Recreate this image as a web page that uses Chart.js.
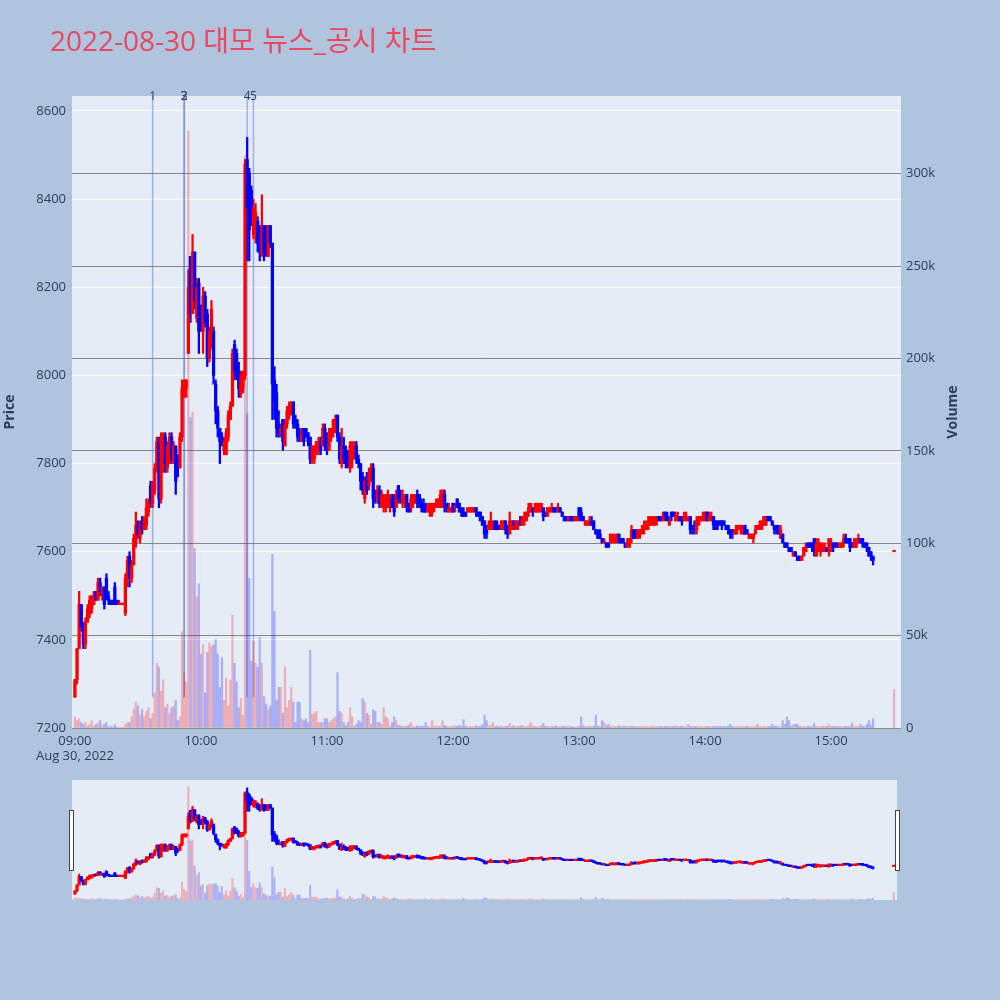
<!DOCTYPE html>
<html>
<head>
<meta charset="utf-8">
<title>대모 뉴스_공시 차트</title>
<script src="https://cdn.jsdelivr.net/npm/chart.js@4.4.0/dist/chart.umd.min.js"></script>
<style>
  html, body { margin: 0; padding: 0; background: #b0c4de; }
  #wrap { position: relative; width: 1000px; height: 1000px; }
  #mainChart { position: absolute; left: 0; top: 0; }
  #sliderChart { position: absolute; left: 62px; top: 780px; }
</style>
</head>
<body>
<div id="wrap">
  <canvas id="mainChart" width="1000" height="1000"></canvas>
  <canvas id="sliderChart" width="846" height="121"></canvas>
</div>
<script>
/**
 * 대모 1분봉 + 거래량 + 뉴스/공시 표시
 * 분 인덱스: 09:00 = 0, 15:30 동시호가 = 390
 */

const opens = [
  7270,7310,7380,7480,7430,7390,7440,7460,7470,7480,
  7510,7490,7530,7500,7520,7540,7500,7490,7490,7520,
  7490,7480,7480,7480,7460,7530,7590,7540,7570,7620,
  7660,7630,7670,7650,7660,7690,7750,7710,7740,7790,
  7850,7720,7800,7860,7790,7800,7860,7810,7840,7800,
  7790,7860,7960,7970,8050,8270,8140,8280,8130,8210,
  8150,8100,8180,8140,8040,8070,8100,7980,7920,7880,
  7860,7830,7820,7860,7900,7930,8070,8050,8010,7960,
  7970,8000,8490,8460,8420,8320,8330,8350,8330,8280,
  8340,8330,8270,8340,8300,7990,7960,7890,7870,7900,
  7840,7890,7910,7920,7940,7900,7890,7870,7850,7880,
  7880,7870,7860,7810,7810,7830,7830,7850,7840,7880,
  7860,7830,7860,7870,7880,7910,7860,7800,7840,7830,
  7820,7790,7810,7830,7840,7810,7800,7770,7720,7770,
  7750,7770,7790,7730,7720,7740,7710,7700,7700,7700,
  7700,7720,7720,7700,7750,7730,7710,7710,7730,7710,
  7700,7710,7710,7730,7730,7710,7710,7700,7690,7690,
  7690,7700,7700,7700,7700,7710,7730,7710,7690,7690,
  7710,7700,7720,7710,7700,7690,7690,7690,7690,7690,
  7690,7700,7690,7690,7680,7670,7660,7650,7650,7650,
  7670,7660,7660,7650,7660,7670,7660,7640,7650,7670,
  7650,7660,7670,7660,7670,7670,7690,7690,7700,7690,
  7690,7690,7700,7700,7690,7680,7690,7690,7700,7700,
  7690,7700,7690,7680,7680,7670,7680,7680,7670,7670,
  7700,7690,7680,7660,7660,7660,7670,7670,7650,7640,
  7640,7630,7620,7620,7620,7620,7630,7620,7630,7640,
  7630,7630,7620,7610,7610,7630,7650,7650,7630,7640,
  7640,7650,7650,7660,7660,7660,7660,7670,7680,7680,
  7670,7690,7680,7660,7690,7690,7670,7670,7680,7680,
  7670,7670,7670,7680,7660,7660,7650,7660,7670,7670,
  7670,7690,7670,7670,7680,7670,7670,7670,7670,7670,
  7660,7660,7650,7650,7640,7640,7650,7650,7640,7660,
  7650,7630,7630,7630,7640,7650,7650,7650,7660,7660,
  7680,7680,7670,7660,7660,7650,7630,7640,7620,7620,
  7610,7610,7590,7600,7590,7590,7580,7590,7600,7620,
  7620,7620,7630,7590,7600,7600,7600,7600,7610,7600,
  7610,7620,7620,7620,7610,7610,7620,7630,7630,7630,
  7620,7610,7610,7620,7630,7630,7620,7620,7610,7600,
  7590,null,null,null,null,null,null,null,null,null,
  7600
];

const highs = [
  7310,7380,7510,7480,7440,7450,7480,7500,7500,7510,
  7510,7540,7540,7520,7520,7550,7510,7490,7490,7530,
  7490,7490,7480,7480,7550,7590,7600,7580,7640,7690,
  7670,7670,7680,7680,7720,7720,7760,7760,7800,7860,
  7860,7870,7870,7870,7850,7870,7870,7850,7840,7820,
  7870,7990,7990,7990,8240,8270,8320,8280,8220,8220,
  8160,8200,8190,8150,8110,8170,8110,7990,7930,7880,
  7870,7860,7880,7920,7940,8060,8080,8060,8030,8010,
  8010,8490,8540,8470,8430,8400,8390,8360,8340,8410,
  8340,8340,8340,8340,8300,8020,7980,7920,7890,7900,
  7900,7930,7940,7940,7940,7910,7900,7880,7880,7880,
  7880,7870,7860,7840,7840,7850,7860,7860,7890,7890,
  7870,7880,7880,7900,7910,7910,7870,7880,7860,7840,
  7830,7850,7850,7850,7850,7820,7800,7780,7770,7780,
  7790,7800,7800,7740,7750,7750,7740,7730,7730,7740,
  7730,7730,7730,7740,7750,7740,7740,7730,7730,7710,
  7730,7730,7730,7740,7730,7720,7720,7710,7710,7710,
  7710,7710,7720,7720,7740,7740,7740,7710,7710,7700,
  7710,7710,7720,7710,7700,7700,7690,7700,7700,7700,
  7700,7700,7690,7690,7680,7670,7660,7670,7690,7670,
  7670,7670,7660,7670,7670,7670,7660,7690,7670,7670,
  7670,7670,7680,7680,7690,7690,7710,7710,7700,7710,
  7710,7710,7710,7700,7690,7700,7700,7710,7700,7700,
  7710,7700,7690,7680,7680,7680,7680,7680,7680,7680,
  7700,7700,7680,7670,7670,7680,7680,7670,7650,7650,
  7650,7630,7630,7620,7620,7640,7640,7640,7640,7640,
  7630,7630,7620,7630,7630,7660,7650,7650,7650,7650,
  7660,7670,7670,7680,7680,7680,7680,7680,7680,7680,
  7690,7690,7690,7680,7690,7690,7690,7690,7680,7680,
  7690,7690,7680,7680,7660,7670,7680,7680,7680,7690,
  7690,7690,7690,7690,7680,7670,7670,7670,7670,7670,
  7660,7660,7650,7650,7650,7660,7660,7660,7660,7660,
  7650,7640,7640,7640,7660,7660,7670,7670,7680,7680,
  7680,7680,7670,7660,7660,7660,7660,7640,7620,7620,
  7610,7610,7600,7600,7590,7590,7590,7610,7620,7620,
  7620,7620,7630,7630,7630,7620,7620,7620,7610,7630,
  7630,7620,7620,7620,7620,7620,7640,7640,7630,7630,
  7620,7630,7630,7640,7630,7630,7620,7620,7610,7600,
  7590,null,null,null,null,null,null,null,null,null,
  7600
];

const lows = [
  7270,7300,7380,7420,7380,7380,7440,7450,7460,7480,
  7490,7490,7500,7490,7470,7490,7480,7480,7480,7480,
  7480,7480,7480,7480,7455,7520,7520,7530,7570,7610,
  7630,7620,7640,7650,7650,7680,7700,7700,7730,7780,
  7700,7710,7780,7780,7780,7800,7800,7800,7730,7770,
  7790,7850,7950,7950,8050,8120,8140,8150,8120,8050,
  8100,8050,8110,8020,8030,8060,7980,7890,7860,7800,
  7840,7820,7820,7850,7900,7930,7990,7990,7950,7950,
  7960,7990,8260,8260,8340,8310,8300,8280,8260,8270,
  8260,8270,8270,8290,7900,7900,7860,7860,7860,7830,
  7840,7880,7900,7910,7880,7880,7850,7850,7850,7840,
  7860,7840,7800,7800,7800,7820,7820,7820,7840,7830,
  7820,7830,7850,7860,7870,7850,7800,7790,7800,7790,
  7790,7780,7790,7810,7800,7790,7740,7730,7710,7730,
  7740,7760,7700,7710,7710,7700,7700,7690,7690,7700,
  7690,7700,7680,7700,7710,7710,7700,7700,7690,7690,
  7690,7700,7710,7700,7700,7690,7690,7690,7690,7680,
  7680,7690,7700,7700,7700,7700,7690,7690,7690,7690,
  7690,7690,7700,7690,7680,7680,7680,7690,7690,7690,
  7690,7680,7680,7670,7660,7630,7630,7650,7650,7650,
  7650,7650,7650,7650,7650,7640,7630,7640,7650,7650,
  7650,7650,7660,7660,7660,7670,7680,7690,7680,7690,
  7690,7690,7690,7670,7680,7680,7690,7690,7690,7690,
  7690,7690,7680,7670,7670,7670,7670,7670,7670,7670,
  7670,7670,7670,7660,7660,7660,7660,7650,7640,7630,
  7630,7620,7620,7610,7610,7620,7620,7620,7620,7620,
  7620,7620,7610,7610,7610,7620,7630,7630,7630,7630,
  7640,7640,7650,7650,7660,7660,7660,7660,7670,7670,
  7670,7670,7670,7660,7670,7680,7670,7670,7670,7660,
  7670,7670,7670,7640,7640,7640,7640,7660,7670,7670,
  7670,7670,7670,7670,7650,7650,7650,7660,7650,7660,
  7650,7640,7630,7630,7640,7640,7650,7640,7640,7640,
  7640,7630,7630,7620,7640,7650,7650,7650,7660,7660,
  7670,7670,7660,7640,7640,7640,7630,7620,7610,7610,
  7600,7600,7590,7590,7580,7580,7580,7590,7600,7610,
  7610,7600,7590,7590,7600,7590,7600,7600,7600,7590,
  7600,7600,7610,7610,7610,7610,7610,7620,7620,7600,
  7610,7610,7610,7620,7620,7610,7610,7600,7590,7580,
  7570,null,null,null,null,null,null,null,null,null,
  7600
];

const closes = [
  7310,7380,7480,7430,7390,7440,7470,7490,7500,7500,
  7490,7530,7510,7520,7480,7500,7490,7480,7480,7490,
  7480,7480,7480,7480,7540,7580,7540,7570,7630,7660,
  7640,7660,7650,7670,7700,7710,7710,7750,7790,7850,
  7720,7860,7860,7800,7840,7860,7810,7840,7760,7790,
  7860,7970,7980,7990,8200,8140,8280,8170,8200,8100,
  8110,8180,8120,8040,8100,8150,8000,7920,7880,7850,
  7850,7850,7870,7910,7930,8050,8010,8000,7970,8000,
  8000,8480,8380,8330,8350,8380,8370,8300,8280,8340,
  8280,8290,8340,8300,7980,7940,7880,7870,7880,7850,
  7890,7920,7930,7940,7890,7890,7860,7860,7870,7850,
  7860,7850,7810,7840,7840,7850,7850,7830,7880,7840,
  7830,7870,7880,7900,7900,7860,7810,7840,7810,7800,
  7800,7840,7840,7840,7810,7800,7760,7740,7760,7740,
  7780,7790,7720,7720,7740,7710,7730,7720,7720,7730,
  7720,7700,7690,7730,7720,7720,7730,7720,7700,7690,
  7720,7730,7730,7710,7710,7700,7690,7690,7700,7700,
  7700,7710,7710,7720,7730,7740,7700,7700,7700,7700,
  7690,7700,7700,7690,7690,7680,7680,7700,7700,7700,
  7700,7690,7680,7670,7660,7640,7640,7660,7670,7660,
  7650,7650,7650,7670,7670,7650,7640,7670,7670,7660,
  7670,7670,7660,7680,7680,7690,7700,7710,7690,7700,
  7710,7700,7710,7680,7680,7700,7700,7700,7690,7690,
  7700,7690,7680,7670,7670,7680,7670,7670,7680,7680,
  7680,7680,7670,7670,7670,7670,7660,7650,7640,7630,
  7630,7620,7620,7610,7610,7640,7640,7630,7640,7630,
  7620,7620,7610,7620,7630,7650,7630,7640,7650,7650,
  7650,7660,7660,7670,7680,7670,7680,7680,7670,7670,
  7680,7680,7670,7670,7680,7680,7680,7680,7670,7670,
  7680,7680,7680,7650,7650,7650,7670,7680,7680,7680,
  7690,7670,7680,7680,7660,7650,7660,7660,7660,7660,
  7650,7650,7640,7640,7650,7660,7660,7660,7650,7640,
  7640,7640,7640,7640,7650,7660,7660,7670,7680,7670,
  7670,7670,7660,7650,7650,7640,7650,7620,7610,7610,
  7600,7600,7600,7590,7580,7580,7590,7610,7610,7610,
  7610,7610,7600,7620,7620,7620,7610,7610,7600,7630,
  7620,7610,7610,7610,7620,7620,7630,7620,7620,7610,
  7610,7620,7630,7630,7620,7620,7610,7610,7590,7590,
  7580,null,null,null,null,null,null,null,null,null,
  7600
];

const volumes = [
  6000,4000,5000,3000,2000,3000,1000,2000,4000,1000,
  2000,3000,4000,1000,2000,3000,500,1000,500,2000,
  500,300,200,300,2000,3000,3000,6000,10000,14000,
  12000,7000,10000,6000,9000,11000,5000,8000,19000,35000,
  33000,20000,26000,11000,13000,8000,11000,12000,15000,4000,
  6000,52000,30000,25000,323000,168000,171000,97000,71000,78000,
  40000,45000,19000,41000,46000,44000,45000,48000,40000,22000,
  38000,15000,27000,12000,26000,61000,35000,25000,11000,16000,
  7000,310000,170000,81000,36000,47000,35000,33000,49000,35000,
  17000,13000,10000,12000,94000,63000,15000,22000,22000,8000,
  33000,11000,15000,22000,14000,3000,14000,14000,5000,4000,
  5000,3000,42000,7500,8000,9000,3000,3000,3000,5000,
  5000,3000,4000,5000,6000,30000,9000,8000,3000,1000,
  3000,11000,6000,1000,2000,4000,3000,16000,14000,8000,
  7000,2000,10000,9000,3000,3000,2000,11000,6000,5000,
  1000,3000,6000,4000,1500,1000,1200,800,1000,1500,
  3000,1000,800,1200,600,1000,800,3000,1000,500,
  4000,800,1200,600,1000,4000,1500,800,600,1000,
  700,1200,900,1500,800,4500,1000,600,800,700,
  900,1200,600,1000,2000,7000,4000,1200,1500,3000,
  800,1000,600,1200,700,900,1000,2500,800,1200,
  600,800,1000,1500,700,900,1200,3000,800,1000,
  700,900,1200,2500,800,1000,600,900,700,1200,
  800,600,1000,900,700,1100,600,800,500,900,
  700,6000,1200,900,800,1000,600,900,7000,1000,
  800,4000,3000,1200,2000,900,700,1000,800,1200,
  600,900,700,1000,800,1200,700,600,900,800,
  1000,700,900,600,800,1100,700,900,600,800,
  700,900,800,1000,600,800,1200,900,700,1000,
  800,700,2000,900,600,800,1000,700,900,600,
  800,700,900,600,1000,800,700,900,600,800,
  700,900,2000,800,600,1000,700,900,800,600,
  900,700,800,600,1000,2000,800,700,900,600,
  800,700,2000,900,1000,800,600,4000,2000,6000,
  4000,1000,2000,2000,2000,800,700,900,600,1000,
  800,700,2500,900,600,800,1000,700,900,2000,
  800,700,900,600,1000,800,700,900,600,800,
  2500,700,900,800,2000,900,700,2000,4000,1500,
  5000,null,null,null,null,null,null,null,null,null,
  21000
];

// x축 눈금 (분 인덱스)
const timeTicks = [0, 60, 120, 180, 240, 300, 360];
const timeLabels = ['09:00', '10:00', '11:00', '12:00', '13:00', '14:00', '15:00'];
const dateLabel = 'Aug 30, 2022';

const priceTicks = [7200, 7400, 7600, 7800, 8000, 8200, 8400, 8600];
const volumeTicks = [0, 50000, 100000, 150000, 200000, 250000, 300000];

// 뉴스/공시 발생 시각 (분 인덱스)
const newsMinutes = [37, 52, 52, 82, 85];
const newsLabels = ['1', '2', '3', '4', '5'];

const titleText = '2022-08-30 대모 뉴스_공시 차트';

const UP = '#ff0000';
const DOWN = '#0000ff';
const UP_VOL = 'rgba(255, 0, 0, 0.25)';
const DOWN_VOL = 'rgba(0, 0, 255, 0.25)';
const PLOT_BG = '#e5ecf6';
const TEXT = '#2a3f5f';
const FONT = "'Open Sans', 'Noto Sans CJK KR', sans-serif";

// 값이 있는 분만 사용
const idx = closes.map((c, i) => (c == null ? -1 : i)).filter(i => i >= 0);
const isUp = i => closes[i] >= opens[i];

function buildDatasets(wickW, bodyW, volW) {
  return [
    {
      label: 'body',
      data: idx.map(i => ({ x: i, y: [opens[i], closes[i]] })),
      backgroundColor: idx.map(i => (isUp(i) ? UP : DOWN)),
      barThickness: bodyW,
      minBarLength: 1.5,
      grouped: false,
      order: 1,
      yAxisID: 'y'
    },
    {
      label: 'wick',
      data: idx.map(i => ({ x: i, y: [lows[i], highs[i]] })),
      backgroundColor: idx.map(i => (isUp(i) ? UP : DOWN)),
      barThickness: wickW,
      minBarLength: 1,
      grouped: false,
      order: 2,
      yAxisID: 'y'
    },
    {
      label: 'volume',
      data: idx.map(i => ({ x: i, y: volumes[i] })),
      backgroundColor: idx.map(i => (isUp(i) ? UP_VOL : DOWN_VOL)),
      barThickness: volW,
      grouped: false,
      order: 3,
      yAxisID: 'y1'
    }
  ];
}

// 플롯 배경
const plotBackground = {
  id: 'plotBackground',
  beforeDraw(chart) {
    const { ctx, chartArea: a } = chart;
    ctx.save();
    ctx.fillStyle = PLOT_BG;
    ctx.fillRect(a.left, a.top, a.right - a.left, a.bottom - a.top);
    ctx.restore();
  }
};

// 뉴스 세로선 + 번호
const newsMarkers = {
  id: 'newsMarkers',
  beforeDatasetsDraw(chart) {
    const { ctx, chartArea: a, scales } = chart;
    const yBottom = scales.y.getPixelForValue(7270);
    ctx.save();
    ctx.strokeStyle = 'rgba(70, 100, 230, 0.45)';
    ctx.lineWidth = 1.5;
    newsMinutes.forEach(m => {
      const x = scales.x.getPixelForValue(m);
      ctx.beginPath();
      ctx.moveTo(x, yBottom);
      ctx.lineTo(x, a.top);
      ctx.stroke();
    });
    ctx.restore();
  },
  afterDraw(chart) {
    const { ctx, chartArea: a, scales } = chart;
    ctx.save();
    ctx.fillStyle = TEXT;
    ctx.font = `12px ${FONT}`;
    ctx.textAlign = 'center';
    ctx.textBaseline = 'middle';
    newsMinutes.forEach((m, k) => {
      ctx.fillText(newsLabels[k], scales.x.getPixelForValue(m), a.top + 1);
    });
    ctx.restore();
  }
};

// 제목과 축 제목
const textLayer = {
  id: 'textLayer',
  afterDraw(chart) {
    const { ctx, chartArea: a } = chart;
    ctx.save();
    ctx.font = `28px ${FONT}`;
    ctx.fillStyle = '#e9485e';
    ctx.textBaseline = 'alphabetic';
    const w = ctx.measureText(titleText).width;
    const sx = Math.min(1, 390 / w);
    ctx.translate(50, 51);
    ctx.scale(sx, 1);
    ctx.fillText(titleText, 0, 0);
    ctx.restore();

    const midY = (a.top + a.bottom) / 2;
    ctx.save();
    ctx.font = `bold 14px ${FONT}`;
    ctx.fillStyle = TEXT;
    ctx.textAlign = 'center';
    ctx.textBaseline = 'middle';
    [['Price', 10], ['Volume', 953]].forEach(([t, x]) => {
      ctx.save();
      ctx.translate(x, midY);
      ctx.rotate(-Math.PI / 2);
      ctx.fillText(t, 0, 0);
      ctx.restore();
    });
    ctx.restore();
  }
};

const tickFont = { family: FONT, size: 13 };

new Chart(document.getElementById('mainChart'), {
  type: 'bar',
  data: { datasets: buildDatasets(1.6, 2.6, 1.6) },
  options: {
    responsive: false,
    animation: false,
    layout: { padding: { top: 96, left: 0, right: 0, bottom: 0 } },
    plugins: { legend: { display: false }, tooltip: { enabled: false } },
    scales: {
      x: {
        type: 'linear',
        min: -1.4,
        max: 393.3,
        offset: false,
        grid: { display: false, drawTicks: false },
        border: { display: false },
        afterBuildTicks: s => { s.ticks = timeTicks.map(v => ({ value: v })); },
        afterFit: s => { s.height = 272; },
        ticks: {
          autoSkip: false,
          maxRotation: 0,
          padding: 5,
          color: TEXT,
          font: tickFont,
          callback: v => {
            const k = timeTicks.indexOf(v);
            return k === 0 ? [timeLabels[0], dateLabel] : timeLabels[k];
          }
        }
      },
      y: {
        position: 'left',
        min: 7200,
        max: 8634,
        grid: { color: '#ffffff', lineWidth: 1, drawTicks: false },
        border: { display: false },
        afterBuildTicks: s => { s.ticks = priceTicks.map(v => ({ value: v })); },
        afterFit: s => { s.width = 72; },
        ticks: { padding: 6, color: TEXT, font: tickFont, callback: v => String(v) }
      },
      y1: {
        position: 'right',
        min: 0,
        max: 342000,
        grid: { color: 'rgba(110, 110, 110, 0.8)', lineWidth: 1, drawTicks: false },
        border: { display: false },
        afterBuildTicks: s => { s.ticks = volumeTicks.map(v => ({ value: v })); },
        afterFit: s => { s.width = 99; },
        ticks: {
          padding: 5,
          color: TEXT,
          font: tickFont,
          callback: v => (v === 0 ? '0' : v / 1000 + 'k')
        }
      }
    }
  },
  plugins: [plotBackground, newsMarkers, textLayer]
});

// 레인지 슬라이더 손잡이
const sliderHandles = {
  id: 'sliderHandles',
  afterDraw(chart) {
    const { ctx, chartArea: a } = chart;
    ctx.save();
    ctx.fillStyle = '#ffffff';
    ctx.strokeStyle = '#444444';
    ctx.lineWidth = 1;
    [a.left - 2.5, a.right - 1.5].forEach(x => {
      ctx.fillRect(x, 30.5, 4, 60);
      ctx.strokeRect(x, 30.5, 4, 60);
    });
    ctx.restore();
  }
};

new Chart(document.getElementById('sliderChart'), {
  type: 'bar',
  data: { datasets: buildDatasets(1.5, 2.6, 1.4) },
  options: {
    responsive: false,
    animation: false,
    layout: { padding: { top: 0, left: 10, right: 11, bottom: 1 } },
    plugins: { legend: { display: false }, tooltip: { enabled: false } },
    scales: {
      x: { type: 'linear', min: -1.4, max: 391.5, offset: false, display: false },
      y: { min: 7200, max: 8634, display: false },
      y1: { min: 0, max: 342000, display: false }
    }
  },
  plugins: [plotBackground, sliderHandles]
});
</script>
</body>
</html>
